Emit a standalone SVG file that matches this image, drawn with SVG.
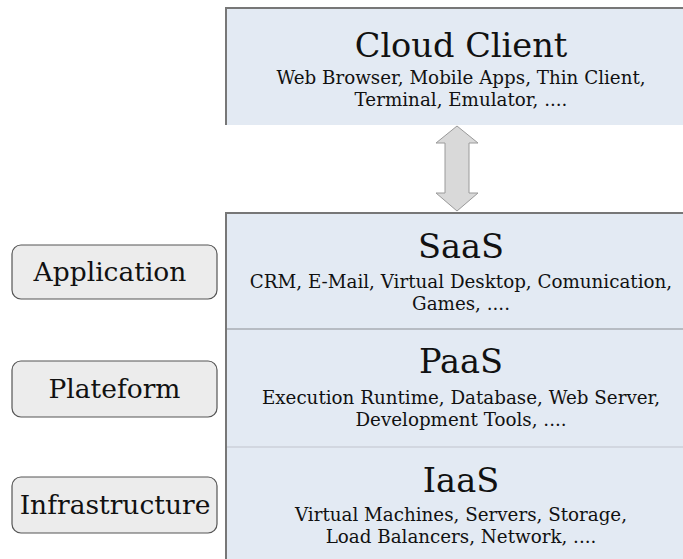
<svg xmlns="http://www.w3.org/2000/svg" width="683" height="559" viewBox="0 0 683 559">
  <style>
    text { font-family: "DejaVu Serif", "Liberation Serif", serif; fill: #111; text-anchor: middle; }
    .title { font-size: 33.6px; }
    .sub { font-size: 18.3px; }
    .lbl { font-size: 26.5px; }
    .layer { fill: #e3eaf3; }
    .edge { fill: none; stroke: #777; stroke-width: 2; }
    .div { stroke: #a9adb3; stroke-width: 1.5; }
    .tag { fill: #ececec; stroke: #555; stroke-width: 1.2; }
  </style>

  <rect width="683" height="559" fill="#ffffff"/>

  <g id="cloud-client">
    <rect class="layer" x="226" y="8" width="470" height="117"/>
    <path class="edge" d="M226,125 V8 H690"/>
    <text class="title" x="461" y="57">Cloud Client</text>
    <text class="sub" x="461" y="84">Web Browser, Mobile Apps, Thin Client,</text>
    <text class="sub" x="461" y="106">Terminal, Emulator, ....</text>
  </g>

  <g id="connectors">
    <path d="M457,126 L478,143 L469,143 L469,193 L478,193 L457,211 L436,193 L445,193 L445,143 L436,143 Z"
          fill="#d9d9d9" stroke="#9a9a9a" stroke-width="1"/>
  </g>

  <g id="stack">
    <rect class="layer" x="226" y="213" width="470" height="350"/>
    <path class="edge" d="M226,565 V213 H690"/>
    <line class="div" x1="227" y1="329" x2="683" y2="329"/>
    <line class="div" x1="227" y1="447" x2="683" y2="447" stroke-opacity="0.4"/>
  </g>

  <g id="saas">
    <text class="title" x="461" y="258">SaaS</text>
    <text class="sub" x="461" y="288">CRM, E-Mail, Virtual Desktop, Comunication,</text>
    <text class="sub" x="461" y="310">Games, ....</text>
  </g>

  <g id="paas">
    <text class="title" x="461" y="373">PaaS</text>
    <text class="sub" x="461" y="404">Execution Runtime, Database, Web Server,</text>
    <text class="sub" x="461" y="426">Development Tools, ....</text>
  </g>

  <g id="iaas">
    <text class="title" x="461" y="492">IaaS</text>
    <text class="sub" x="461" y="521">Virtual Machines, Servers, Storage,</text>
    <text class="sub" x="461" y="543">Load Balancers, Network, ....</text>
  </g>

  <g id="application">
    <rect class="tag" x="12" y="245" width="205" height="54" rx="9"/>
    <text class="lbl" x="110" y="281">Application</text>
  </g>

  <g id="plateform">
    <rect class="tag" x="12" y="361" width="205" height="56" rx="9"/>
    <text class="lbl" x="114.5" y="398">Plateform</text>
  </g>

  <g id="infrastructure">
    <rect class="tag" x="12" y="477" width="205" height="56" rx="9"/>
    <text class="lbl" x="115" y="514">Infrastructure</text>
  </g>
</svg>
